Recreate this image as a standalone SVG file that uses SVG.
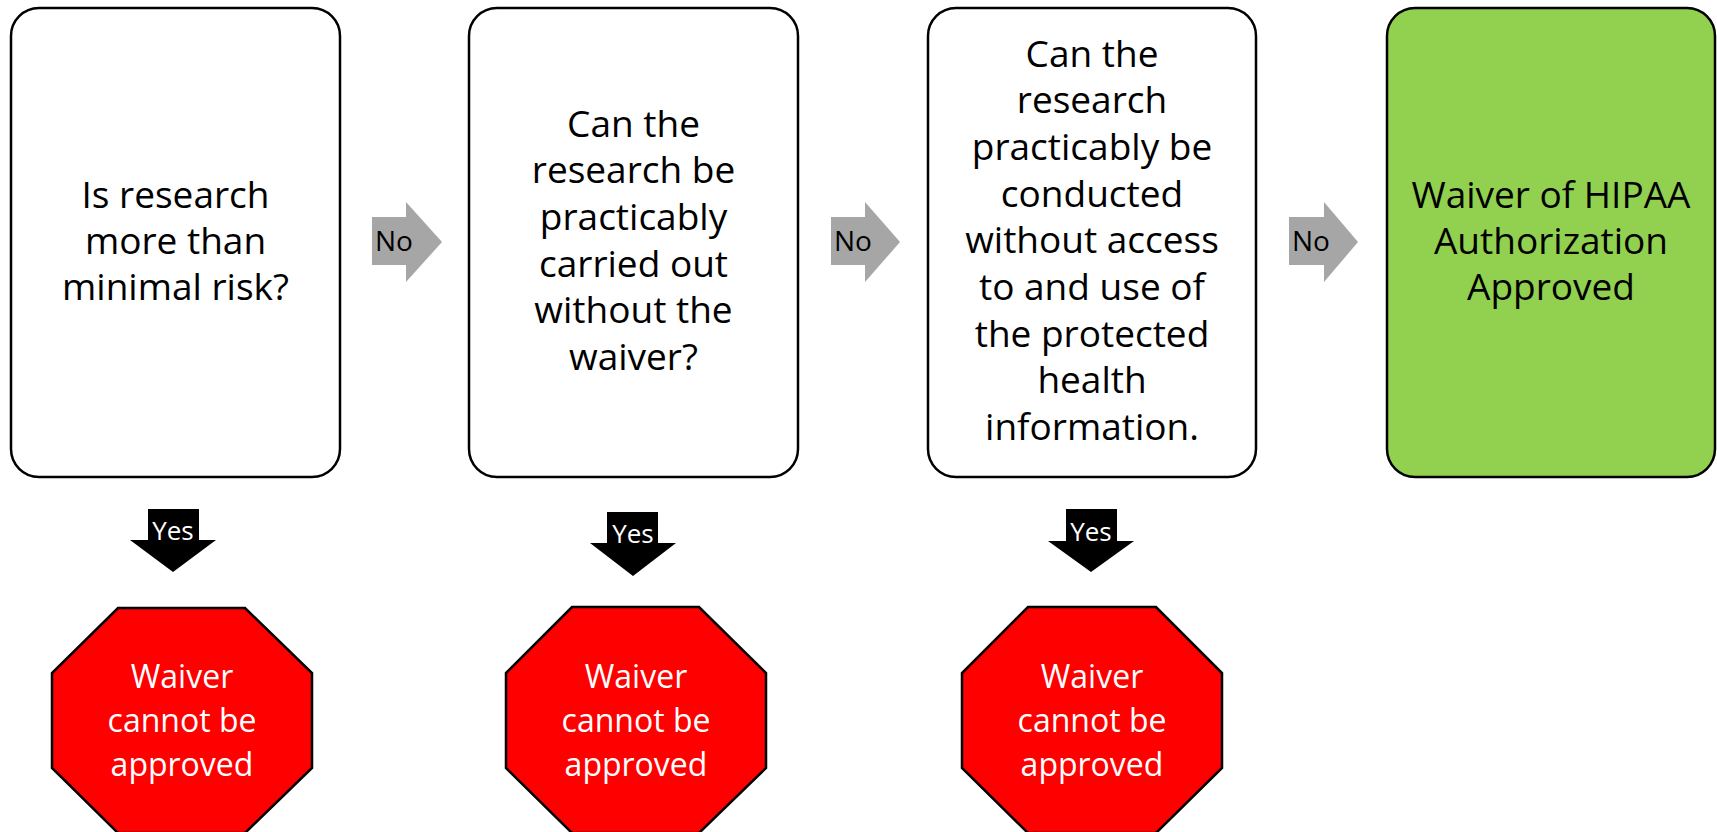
<svg xmlns="http://www.w3.org/2000/svg" width="1717" height="832" viewBox="0 0 1717 832">
<style>
.box{fill:#fff;stroke:#000;stroke-width:2.5}
.ok{fill:#92D050;stroke:#000;stroke-width:2.5}
.stop{fill:#FF0000;stroke:#000;stroke-width:2.5}
.bt{font-family:"Open Sans","Noto Sans",sans-serif;font-size:37px;fill:#000;text-anchor:middle}
.st{font-family:"Open Sans","Noto Sans",sans-serif;font-size:32px;fill:#fff;text-anchor:middle}
.no{fill:#A6A6A6}
.not{font-family:"Open Sans","Noto Sans",sans-serif;font-size:28px;fill:#000}
.yes{fill:#000}
.yt{font-family:"Open Sans","Noto Sans",sans-serif;font-size:26px;fill:#fff;text-anchor:middle}
</style>
<rect width="1717" height="832" fill="#fff"/>
<g id="q1">
<rect class="box" x="11" y="8" width="329" height="469" rx="28"/>
<text class="bt"><tspan x="175.5" y="208">Is research</tspan><tspan x="175.5" y="254">more than</tspan><tspan x="175.5" y="300">minimal risk?</tspan></text>
</g>
<g id="q2">
<rect class="box" x="469" y="8" width="329" height="469" rx="28"/>
<text class="bt"><tspan x="633.5" y="137">Can the</tspan><tspan x="633.5" y="183">research be</tspan><tspan x="633.5" y="230">practicably</tspan><tspan x="633.5" y="277">carried out</tspan><tspan x="633.5" y="323">without the</tspan><tspan x="633.5" y="370">waiver?</tspan></text>
</g>
<g id="q3">
<rect class="box" x="928" y="8" width="328" height="469" rx="28"/>
<text class="bt"><tspan x="1092" y="67">Can the</tspan><tspan x="1092" y="113">research</tspan><tspan x="1092" y="160">practicably be</tspan><tspan x="1092" y="207">conducted</tspan><tspan x="1092" y="253">without access</tspan><tspan x="1092" y="300">to and use of</tspan><tspan x="1092" y="347">the protected</tspan><tspan x="1092" y="393">health</tspan><tspan x="1092" y="440">information.</tspan></text>
</g>
<g id="approved">
<rect class="ok" x="1387" y="8" width="328" height="469" rx="28"/>
<text class="bt"><tspan x="1551" y="208">Waiver of HIPAA</tspan><tspan x="1551" y="254">Authorization</tspan><tspan x="1551" y="300">Approved</tspan></text>
</g>
<g id="stop1">
<polygon class="stop" points="118,608 245,608 312,673 312,768 245,833 118,833 52,768 52,673"/>
<text class="st"><tspan x="182" y="688">Waiver</tspan><tspan x="182" y="732">cannot be</tspan><tspan x="182" y="776">approved</tspan></text>
</g>
<g id="stop2">
<polygon class="stop" points="572,607 699,607 766,673 766,768 699,833 572,833 506,768 506,673"/>
<text class="st"><tspan x="636" y="688">Waiver</tspan><tspan x="636" y="732">cannot be</tspan><tspan x="636" y="776">approved</tspan></text>
</g>
<g id="stop3">
<polygon class="stop" points="1028,607 1156,607 1222,673 1222,768 1156,833 1028,833 962,768 962,673"/>
<text class="st"><tspan x="1092" y="688">Waiver</tspan><tspan x="1092" y="732">cannot be</tspan><tspan x="1092" y="776">approved</tspan></text>
</g>
<g id="connectors">
<g id="no1"><polygon class="no" points="372,217 406,217 406,202 442,242 406,282 406,265 372,265"/><text class="not" x="375" y="251">No</text></g>
<g id="no2"><polygon class="no" points="831,217 865,217 865,202 900,242 865,282 865,265 831,265"/><text class="not" x="834" y="251">No</text></g>
<g id="no3"><polygon class="no" points="1289,217 1324,217 1324,202 1358,242 1324,282 1324,265 1289,265"/><text class="not" x="1292" y="251">No</text></g>
<g id="yes1"><polygon class="yes" points="148,509 199,509 199,540 216,540 173,572 130,540 148,540"/><text class="yt" x="173" y="540">Yes</text></g>
<g id="yes2"><polygon class="yes" points="607,512 658,512 658,543 676,543 633,576 590,543 607,543"/><text class="yt" x="633" y="543">Yes</text></g>
<g id="yes3"><polygon class="yes" points="1066,509 1117,509 1117,541 1134,541 1091,572 1048,541 1066,541"/><text class="yt" x="1091" y="541">Yes</text></g>
</g>
</svg>
